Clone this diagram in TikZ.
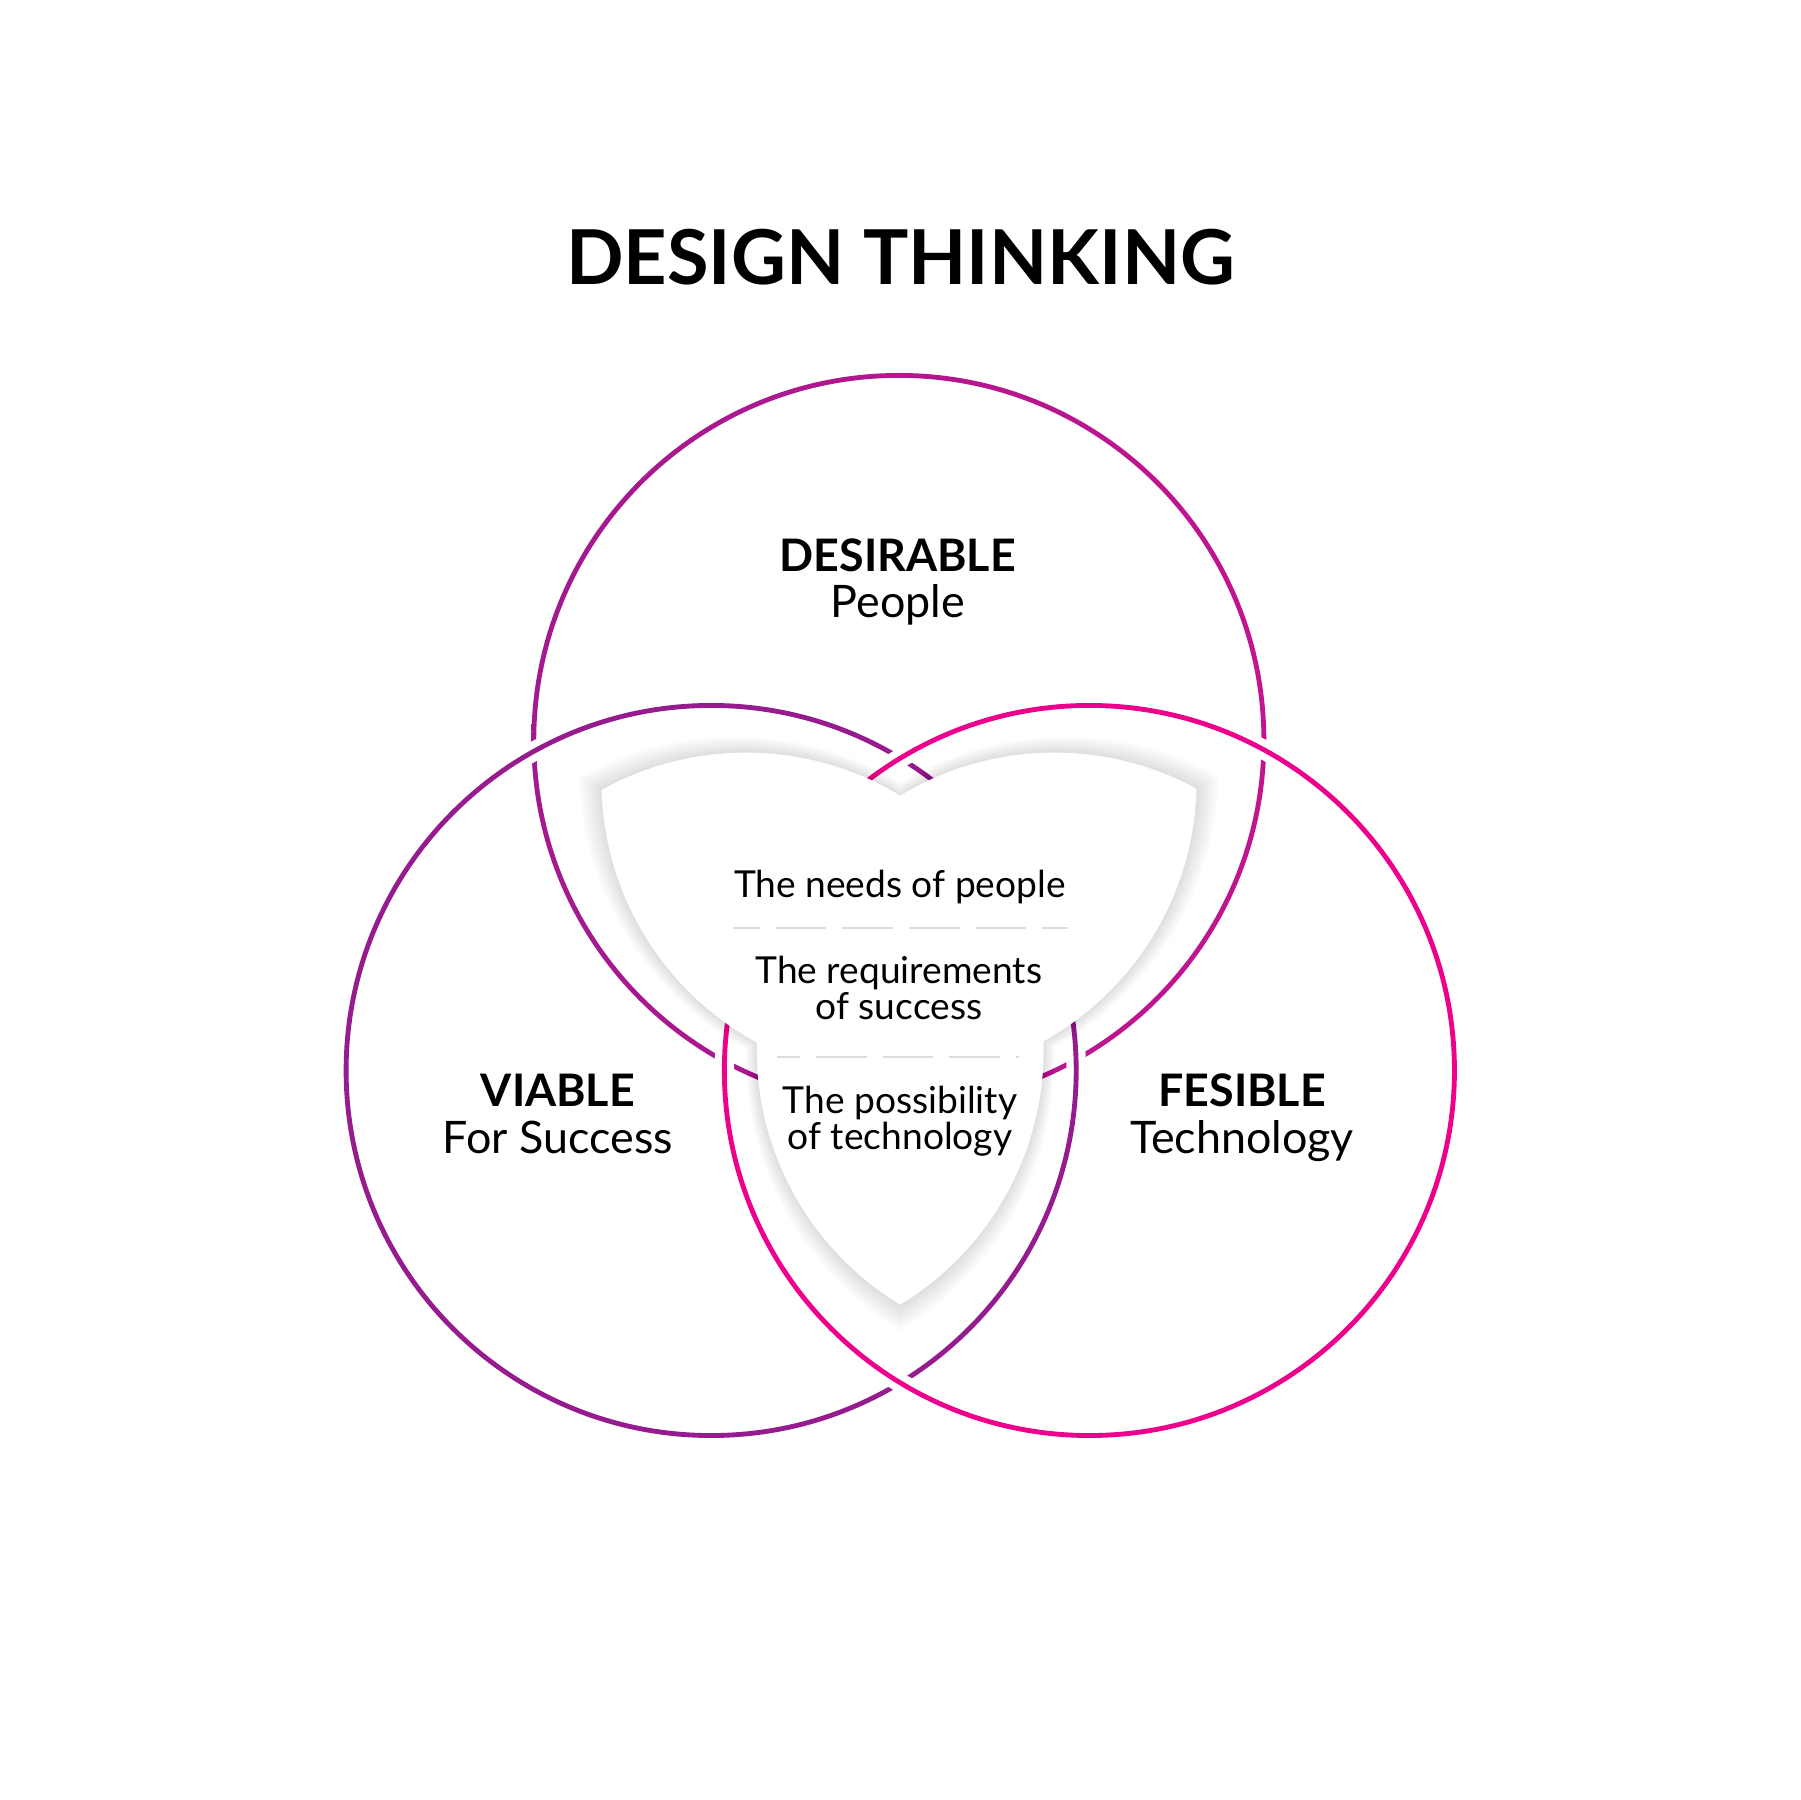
\documentclass[tikz,border=0pt]{standalone}
\usepackage{fontspec}
\setmainfont{Lato}
\usetikzlibrary{calc}
\definecolor{desireA}{HTML}{A3198F}
\definecolor{desireB}{HTML}{C2148F}
\definecolor{viable}{HTML}{961B8E}
\definecolor{feasible}{HTML}{EC008C}
\definecolor{divider}{HTML}{DDDDDD}
\newcommand\shrink{0.815}
\newcommand\rad{318}
%% region covered by at least two of the (scaled) circles
\newcommand\twoplus[2]{%
  \begin{scope}
    \clip ($(C)!#1!(T)$) circle ({#1*\rad});
    \fill[#2] ($(C)!#1!(L)$) circle ({#1*\rad});
    \fill[#2] ($(C)!#1!(R)$) circle ({#1*\rad});
  \end{scope}
  \begin{scope}
    \clip ($(C)!#1!(L)$) circle ({#1*\rad});
    \fill[#2] ($(C)!#1!(R)$) circle ({#1*\rad});
  \end{scope}}

\begin{document}
\begin{tikzpicture}[
  x=0.01cm, y=-0.01cm,
  every node/.style={inner sep=0pt, outer sep=0pt},
  ring/.style={line width=1.2pt},
  casing/.style={draw=white, line width=4.8pt},
  areaname/.style={align=center, font=\fontsize{11.1}{11.5}\selectfont},
  notetext/.style={align=center, font=\fontsize{9.2}{9}\selectfont},
  divline/.style={draw=divider, line width=0.55pt,
                  dash pattern=on 0.44cm off 0.14cm},
]

\useasboundingbox[fill=white] (0,0) rectangle (1568,1568);

%% Circle centres
\coordinate (T) at (783,645);
\coordinate (L) at (619.5,932.5);
\coordinate (R) at (949,932.5);
\coordinate (C) at (barycentric cs:T=1,L=1,R=1);

%% Rings: top under left under right
\shade[left color=desireA, right color=desireB, even odd rule]
  (T) circle (\rad+2.1) circle (\rad-2.1);
\draw[casing] (L) circle (\rad);
\draw[ring, viable] (L) circle (\rad);
\draw[casing] (R) circle (\rad);
\draw[ring, feasible] (R) circle (\rad);

%% Centre shape with soft shadow
\foreach \k in {16,15,...,1}{
  \pgfmathsetmacro\s{\shrink+0.004*\k}
  \begin{scope}[transparency group, opacity=0.009]
    \twoplus{\s}{black}
  \end{scope}
}
\twoplus{\shrink}{white}

%% Title
\node[font=\fontsize{18.75}{20}\selectfont\bfseries, anchor=base] (title)
  at (784.5,247.5) {DESIGN THINKING};

%% Circle labels (base = last line)
\node[areaname, anchor=base] (desirable) at (782,538) {\textbf{DESIRABLE}\\People};
\node[areaname, anchor=base] (viablelbl) at (486,1004.5) {\textbf{VIABLE}\\For Success};
\node[areaname, anchor=base] (feasiblelbl) at (1082,1004.5) {\textbf{FESIBLE}\\Technology};

%% Centre notes
\node[notetext, anchor=base] (needs) at (784,781.6) {The needs of people};
\node[notetext, anchor=base] (reqs) at (783,888.5) {The requirements\\of success};
\node[notetext, anchor=base] (tech) at (784,1001.5) {The possibility\\of technology};

\coordinate (d1a) at (638.6,808.6);
\coordinate (d1b) at (930,808.6);
\coordinate (d2a) at (676.5,921);
\coordinate (d2b) at (887.6,921);
\draw[divline, dash phase=0.208cm] (d1a) -- (d1b);
\draw[divline, dash phase=0.237cm] (d2a) -- (d2b);

\end{tikzpicture}
\end{document}
